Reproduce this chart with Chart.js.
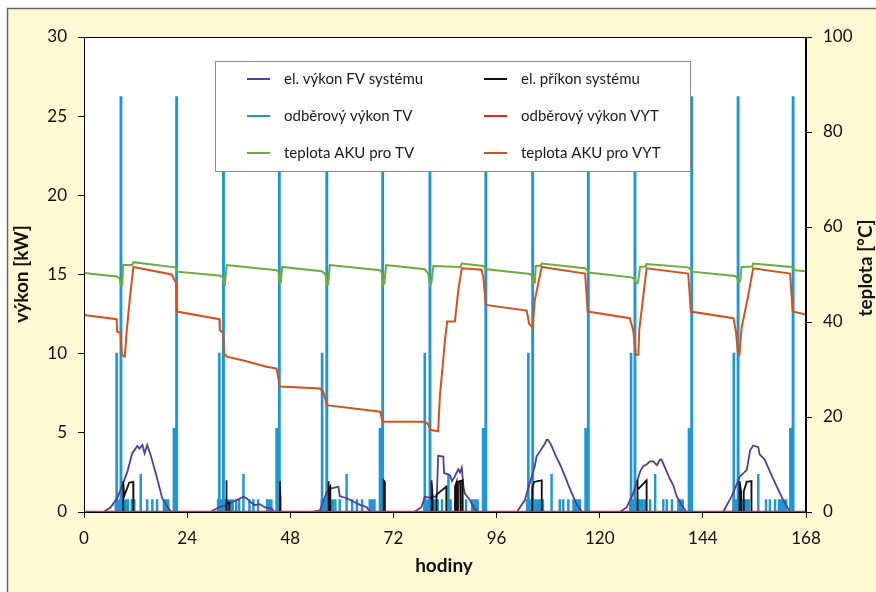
<!DOCTYPE html>
<html>
<head>
<meta charset="utf-8">
<script src="https://cdn.jsdelivr.net/npm/chart.js@4.4.1/dist/chart.umd.min.js"></script>
<style>
  html, body { margin: 0; padding: 0; background: #fff; }
  #wrap { width: 876px; height: 592px; }
</style>
</head>
<body>
<div id="wrap"><canvas id="chart" width="876" height="592"></canvas></div>
<script>
// hours of the week
var xTicks = [0, 24, 48, 72, 96, 120, 144, 168];

// el. výkon FV systému [kW]
var fvHours = [0, 4.6, 6.2, 7.7, 8.5, 10.1, 11.2, 12.4, 12.9, 13.6, 14.1, 14.7, 15.5, 16.7, 18.2, 19.5, 20.3,
  29.4, 31.6, 33.2, 34.7, 37.1, 37.9, 38.6, 39.8, 40.9, 42.0, 43.7, 44.4,
  53.2, 54.9, 56.5, 57.6, 59.2, 59.5, 61.1, 62.7, 64.2, 65.8, 66.6,
  76.8, 78.5, 79.3, 80.5, 82.1, 82.4, 83.6, 83.8, 84.7, 85.2, 85.6, 86.2, 87.1, 87.5, 87.9, 88.3, 88.6, 89.8, 90.6, 91.6,
  100.7, 102.6, 103.0, 104.9, 105.3, 107.3, 107.6, 108.0, 108.3, 108.6, 109.6, 111.1, 112.3, 112.7, 114.2, 114.6, 115.9,
  124.7, 126.3, 127.8, 129.4, 130.1, 130.9, 131.7, 132.5, 133.3, 134.0, 134.4, 134.8, 136.3, 137.1, 137.9, 139.4, 140.2,
  148.7, 150.7, 152.6, 154.2, 155.0, 155.7, 156.9, 157.2, 158.4, 159.6, 161.2, 162.7, 164.3, 168];
var fvKW = [0, 0, 0.3, 0.87, 1.4, 2.55, 3.7, 4.17, 4.0, 4.23, 3.7, 4.23, 3.6, 2.44, 0.87, 0.3, 0,
  0, 0.33, 0.44, 0.65, 0.97, 0.86, 0.65, 0.44, 0.5, 0.3, 0.2, 0,
  0, 0.1, 1.28, 1.5, 1.6, 1.0, 0.87, 0.66, 0.45, 0.3, 0,
  0, 0.3, 0.95, 0.9, 1.0, 3.55, 3.5, 2.45, 2.4, 2.3, 1.95, 2.2, 2.7, 2.5, 2.8, 1.6, 1.17, 0.76, 0.3, 0,
  0, 0.75, 1.17, 2.9, 3.5, 4.34, 4.55, 4.55, 4.4, 4.3, 3.65, 2.8, 2.0, 1.7, 0.75, 0.5, 0,
  0, 0.3, 1.17, 2.55, 2.9, 3.0, 3.2, 3.2, 2.95, 3.3, 3.3, 3.05, 2.1, 1.7, 1.0, 0.3, 0,
  0, 0.99, 2.23, 2.65, 3.9, 4.2, 4.1, 3.65, 3.3, 2.55, 1.6, 0.75, 0, 0];

// el. příkon systému [kW]
var pHours = [0, 9.1, 9.12, 9.35, 10.5, 11.45, 11.5,
  33.1, 33.12, 33.2, 33.8, 33.82,
  45.55, 45.57, 45.7, 45.72,
  56.8, 56.82, 57.0, 57.3, 57.32,
  69.7, 69.72, 70.0, 70.02,
  80.85, 80.87, 81.1, 81.12, 82.0, 82.02, 84.3, 84.32, 86.3, 86.32, 86.7, 86.72, 87.0, 87.02, 87.5, 87.52, 87.7, 87.72, 88.1, 88.12,
  104.3, 104.32, 104.7, 106.5, 106.52,
  128.7, 128.72, 128.9, 130.9, 130.92,
  152.5, 152.52, 152.9, 152.92, 153.5, 153.52, 154.2, 155.3, 155.32, 168];
var pKW = [0, 0, 1.95, 1.0, 1.85, 1.9, 0,
  0, 2.0, 0.6, 0.6, 0,
  0, 1.95, 1.0, 0,
  0, 1.95, 1.4, 1.6, 0,
  0, 2.0, 1.9, 0,
  0, 2.0, 1.1, 0, 0, 1.1, 1.6, 0, 0, 1.6, 1.9, 0, 0, 1.9, 1.95, 0, 0, 1.95, 2.0, 0,
  0, 1.5, 1.9, 2.0, 0,
  0, 2.0, 1.4, 2.0, 0,
  0, 1.95, 1.3, 0, 0, 1.3, 1.9, 1.95, 0, 0];

// odběrový výkon TV [kW] - value holds from this hour until the next one
var tvHours = [0, 7.3, 7.48, 7.72, 8.45, 8.75, 10.3, 11.0, 11.2, 11.6, 11.8, 13.1, 13.3, 14.6, 14.8, 15.8, 16.0, 16.9, 17.1, 18.5, 19.7, 20.8, 21.4, 21.7,
  31.1, 31.38, 31.62, 32.3, 32.6, 34.7, 35.3, 35.5, 36.0, 36.2, 37.0, 37.2, 38.4, 38.6, 39.3, 39.5, 40.4, 40.6, 42.5, 43.7, 44.7, 45.3, 45.6,
  55.2, 55.28, 55.52, 56.35, 56.65, 58.0, 58.4, 58.6, 59.4, 59.6, 61.0, 61.2, 62.3, 62.5, 63.4, 63.6, 64.6, 64.8, 66.4, 67.7, 68.75, 69.35, 69.65,
  79.1, 79.18, 79.42, 80.35, 80.65, 82.4, 83.2, 83.4, 84.7, 84.9, 85.2, 85.4, 86.6, 86.8, 87.6, 87.8, 88.8, 89.0, 90.2, 91.7, 92.75, 93.35, 93.65,
  103.0, 103.28, 103.52, 104.25, 104.55, 106.9, 108.7, 108.9, 110.6, 110.8, 111.4, 111.6, 112.6, 112.8, 113.8, 115.5, 116.6, 117.2, 117.5,
  127.0, 127.18, 127.42, 128.05, 128.35, 130.1, 130.5, 130.7, 131.6, 131.8, 132.8, 133.0, 134.7, 134.9, 135.5, 135.7, 136.7, 136.9, 138.2, 139.4, 140.65, 141.25, 141.55,
  151.0, 151.08, 151.32, 152.05, 152.35, 154.8, 156.8, 157.0, 158.6, 158.8, 159.5, 159.7, 160.7, 160.9, 161.6, 163.5, 164.25, 164.85, 165.15, 168];
var tvKW = [0, 0.75, 10, 0.75, 26.2, 0.75, 0, 0.75, 0, 0.75, 0, 2.35, 0, 0.75, 0, 0.75, 0, 0.75, 0, 0.75, 0, 5.25, 26.2, 0,
  0.75, 10, 0.75, 26.2, 0.75, 0, 0.75, 0, 0.75, 0, 2.35, 0, 0.75, 0, 0.75, 0, 0.75, 0, 0.75, 0, 5.25, 26.2, 0,
  0.75, 10, 0.75, 26.2, 0.75, 0, 0.75, 0, 0.75, 0, 2.35, 0, 0.75, 0, 0.75, 0, 0.75, 0, 0.75, 0, 5.25, 26.2, 0,
  0.75, 10, 0.75, 26.2, 0.75, 0, 0.75, 0, 2.35, 0, 0.75, 0, 0.75, 0, 0.75, 0, 0.75, 0, 0.75, 0, 5.25, 26.2, 0,
  0.75, 10, 0.75, 26.2, 0.75, 0, 2.35, 0, 0.75, 0, 0.75, 0, 0.75, 0, 0.75, 0, 5.25, 26.2, 0,
  0.75, 10, 0.75, 26.2, 0.75, 0, 0.75, 0, 0.75, 0, 2.35, 0, 0.75, 0, 0.75, 0, 0.75, 0, 0.75, 0, 5.25, 26.2, 0,
  0.75, 10, 0.75, 26.2, 0.75, 0, 2.35, 0, 0.75, 0, 0.75, 0, 0.75, 0, 0.75, 0, 5.25, 26.2, 0, 0];

// odběrový výkon VYT [kW]
var vytHours = [0, 168];
var vytKW = [0, 0];

// teplota AKU pro TV [°C]
var tTvHours = [0, 7.6, 8.3, 8.6, 8.9, 9.1, 11.2, 11.5, 21.2, 21.5, 21.7,
  31.4, 32.3, 32.6, 32.8, 33.2, 44.8, 45.3, 45.5, 45.8, 46.1,
  55.3, 56.2, 56.5, 56.8, 57.2, 68.9, 69.4, 69.6, 69.9, 70.3,
  79.3, 80.1, 80.5, 80.8, 81.3, 87.6, 87.9, 92.9, 93.4, 93.7,
  103.8, 104.3, 104.5, 104.9, 105.1, 106.3, 106.5, 116.6, 117.1, 117.4,
  127.4, 128.2, 128.5, 128.9, 129.4, 130.7, 130.9, 140.6, 141.2, 141.5,
  151.5, 152.0, 152.3, 152.7, 153.0, 155.5, 155.7, 164.7, 165.2, 165.5, 168];
var tTvC = [50.3, 49.6, 49.2, 47.8, 47.8, 52.0, 52.0, 52.6, 51.5, 51.3, 50.6,
  49.8, 49.5, 47.8, 48.0, 52.0, 50.9, 50.5, 48.1, 48.3, 51.6,
  50.7, 50.0, 47.8, 48.0, 52.0, 50.9, 50.2, 47.8, 48.2, 52.0,
  51.1, 50.2, 47.8, 48.0, 51.8, 51.6, 52.3, 51.8, 51.2, 51.1,
  50.1, 49.6, 48.1, 48.3, 51.8, 51.9, 52.3, 51.3, 50.9, 50.4,
  49.4, 49.0, 48.1, 48.3, 51.6, 51.7, 52.2, 51.5, 51.0, 50.6,
  49.7, 49.2, 48.3, 48.6, 51.6, 51.7, 52.3, 51.6, 51.2, 50.9, 50.7];

// teplota AKU pro VYT [°C]
var tVytHours = [0, 7.6, 7.7, 8.5, 8.8, 9.5, 9.9, 10.7, 11.5, 20.4, 21.2, 21.4, 21.6,
  31.5, 31.6, 32.4, 32.6, 33.2, 37.1, 42.5, 44.8, 45.6, 54.9, 55.7, 56.5, 68.9, 69.5,
  79.3, 80.0, 80.6, 82.4, 82.8, 84.0, 84.5, 86.3, 87.1, 87.9, 92.5, 92.9, 93.5,
  103.0, 103.6, 104.4, 104.9, 106.5, 116.6, 117.2,
  127.0, 127.8, 128.4, 129.0, 129.2, 130.9, 140.6, 141.2,
  151.1, 151.7, 152.2, 152.5, 153.0, 154.5, 155.7, 164.3, 164.9, 168];
var tVytC = [41.5, 40.6, 38.0, 37.7, 33.1, 32.7, 37.7, 45.3, 51.6, 50.0, 48.6, 48.3, 42.2,
  40.6, 38.3, 37.7, 33.4, 32.7, 31.9, 30.6, 30.2, 26.4, 26.0, 25.3, 22.5, 21.1, 19.0,
  19.0, 18.6, 17.3, 17.0, 24.3, 36.2, 40.1, 40.1, 46.7, 51.3, 51.0, 49.5, 43.6,
  42.4, 39.6, 38.9, 44.6, 51.6, 50.2, 42.2,
  40.8, 38.2, 33.1, 33.1, 38.3, 51.3, 50.2, 42.2,
  40.8, 38.0, 33.1, 33.1, 38.7, 45.3, 51.3, 50.2, 42.2, 41.6];

var FONT = 'Lato, "Open Sans", sans-serif';

function pts(xs, ys) {
  return xs.map(function (x, i) { return { x: x, y: ys[i] }; });
}

var series = [
  { label: 'el. výkon FV systému', color: '#553c9a', width: 1.8, xs: fvHours, ys: fvKW, axis: 'y', order: 4 },
  { label: 'el. příkon systému', color: '#111111', width: 1.8, xs: pHours, ys: pKW, axis: 'y', order: 3 },
  { label: 'odběrový výkon TV', color: '#1e98d4', width: 1.6, xs: tvHours, ys: tvKW, axis: 'y', order: 5, step: true },
  { label: 'odběrový výkon VYT', color: '#e8232a', width: 2.5, xs: vytHours, ys: vytKW, axis: 'y', order: 0 },
  { label: 'teplota AKU pro TV', color: '#6aad3d', width: 2, xs: tTvHours, ys: tTvC, axis: 'y1', order: 2 },
  { label: 'teplota AKU pro VYT', color: '#d4521c', width: 2, xs: tVytHours, ys: tVytC, axis: 'y1', order: 1 }
];

var datasets = series.map(function (s) {
  return {
    label: s.label,
    data: pts(s.xs, s.ys),
    yAxisID: s.axis,
    borderColor: s.color,
    backgroundColor: s.color,
    borderWidth: s.width,
    pointRadius: 0,
    stepped: s.step ? true : false,
    fill: s.step ? 'origin' : false,
    tension: 0,
    order: s.order
  };
});

// frame, white plot area, custom legend and axis titles
var decor = {
  id: 'decor',
  beforeDraw: function (chart) {
    var ctx = chart.ctx, a = chart.chartArea;
    ctx.save();
    ctx.fillStyle = '#ffffff';
    ctx.fillRect(0, 0, chart.width, chart.height);
    ctx.fillStyle = '#fff9d4';
    ctx.fillRect(7, 8, chart.width, chart.height);
    ctx.strokeStyle = '#666';
    ctx.lineWidth = 1.5;
    ctx.beginPath();
    ctx.moveTo(7.5, chart.height);
    ctx.lineTo(7.5, 8.5);
    ctx.lineTo(chart.width, 8.5);
    ctx.stroke();
    ctx.fillStyle = '#ffffff';
    ctx.fillRect(a.left, a.top, a.right - a.left, a.bottom - a.top);
    ctx.restore();
  },
  afterDatasetsDraw: function (chart) {
    var ctx = chart.ctx, a = chart.chartArea;
    ctx.save();
    ctx.strokeStyle = '#000';
    ctx.lineWidth = 1;
    ctx.strokeRect(a.left + 0.5, a.top + 0.5, a.right - a.left - 1, a.bottom - a.top);

    // legend box
    ctx.fillStyle = '#fff';
    ctx.fillRect(215, 61, 475, 111);
    ctx.strokeStyle = '#8a8a8a';
    ctx.strokeRect(215.5, 61.5, 475, 110);
    var cols = [[0, 2, 4], [1, 3, 5]];
    var colX = [247, 484];
    var rowY = [79, 116, 153];
    ctx.font = '15px ' + FONT;
    ctx.textBaseline = 'middle';
    ctx.textAlign = 'left';
    cols.forEach(function (col, c) {
      col.forEach(function (si, r) {
        var s = series[si];
        ctx.strokeStyle = s.color;
        ctx.lineWidth = 2;
        ctx.beginPath();
        ctx.moveTo(colX[c], rowY[r]);
        ctx.lineTo(colX[c] + 23, rowY[r]);
        ctx.stroke();
        ctx.fillStyle = '#1a1a1a';
        ctx.fillText(s.label, colX[c] + 37, rowY[r]);
      });
    });

    // axis titles
    ctx.fillStyle = '#111';
    ctx.font = 'bold 19px ' + FONT;
    ctx.textAlign = 'center';
    ctx.fillText('hodiny', 444, 566);
    ctx.save();
    ctx.translate(22, 274);
    ctx.rotate(-Math.PI / 2);
    ctx.fillText('výkon [kW]', 0, 0);
    ctx.restore();
    ctx.save();
    ctx.translate(866, 268);
    ctx.rotate(-Math.PI / 2);
    ctx.fillText('teplota [°C]', 0, 0);
    ctx.restore();
    ctx.restore();
  }
};

var tickFont = { family: FONT, size: 17 };

new Chart(document.getElementById('chart'), {
  type: 'line',
  data: { datasets: datasets },
  options: {
    responsive: false,
    animation: false,
    devicePixelRatio: 1,
    layout: { padding: { top: 37, left: 0, right: 0, bottom: 0 } },
    plugins: { legend: { display: false }, tooltip: { enabled: false } },
    scales: {
      x: {
        type: 'linear', min: 0, max: 168,
        afterBuildTicks: function (scale) { scale.ticks = xTicks.map(function (v) { return { value: v }; }); },
        afterFit: function (scale) { scale.height = 80; },
        ticks: { font: tickFont, color: '#111', padding: 10, maxRotation: 0 },
        grid: { drawOnChartArea: false, color: '#000', tickLength: 6 },
        border: { color: '#000' }
      },
      y: {
        position: 'left', min: 0, max: 30,
        afterFit: function (scale) { scale.width = 84; },
        ticks: { stepSize: 5, font: tickFont, color: '#111', padding: 11 },
        grid: { drawOnChartArea: false, color: '#000', tickLength: 6 },
        border: { color: '#000' }
      },
      y1: {
        position: 'right', min: 0, max: 100,
        afterFit: function (scale) { scale.width = 70; },
        ticks: { stepSize: 20, font: tickFont, color: '#111', padding: 11 },
        grid: { drawOnChartArea: false, color: '#000', tickLength: 6 },
        border: { color: '#000' }
      }
    }
  },
  plugins: [decor]
});
</script>
</body>
</html>
